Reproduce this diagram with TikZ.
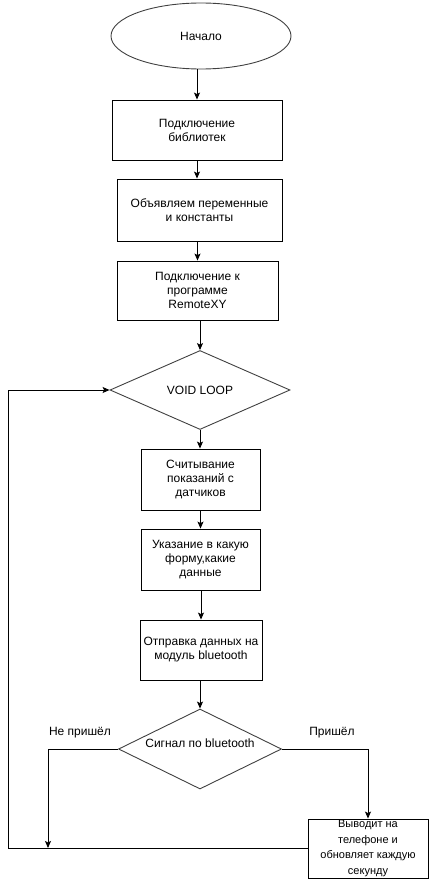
\documentclass[tikz,border=0pt]{standalone}
\usepackage{fontspec}
\setmainfont{Liberation Sans}
\usetikzlibrary{shapes.geometric,arrows.meta}
\begin{document}
\begin{tikzpicture}[x=1pt,y=-1pt,
  every node/.style={font=\fontsize{12}{14}\selectfont, inner sep=0pt, align=center},
  box/.style={draw=black, line width=0.9pt, rectangle},
  dia/.style={draw=black!75, line width=0.9pt, diamond, aspect=2},
  ell/.style={draw=black!75, line width=0.9pt, ellipse},
  arr/.style={draw=black, line width=0.9pt, -{Stealth[length=7pt,width=6pt,inset=1.5pt]}},
  ln/.style={draw=black, line width=0.9pt}]
\useasboundingbox (0,0) rectangle (429,880);
\node[ell, minimum width=180pt, minimum height=66pt] (start) at (201,36) {Начало};
\node[box, minimum width=170pt, minimum height=60pt] (b1) at (197,130) {Подключение\\библиотек};
\node[box, minimum width=165pt, minimum height=62pt] (b2) at (199.5,210) {Объявляем переменные\\и константы};
\node[box, minimum width=161pt, minimum height=59pt] (b3) at (197.5,290.5) {Подключение к\\программе\\RemoteXY};
\node[dia, minimum width=180pt, minimum height=79pt] (d1) at (200,390) {VOID LOOP};
\node[box, minimum width=119pt, minimum height=61pt] (b4) at (200.5,479.5) {Считывание\\показаний с\\датчиков};
\node[box, minimum width=119pt, minimum height=61pt] (b5) at (200.5,559.5) {Указание в какую\\форму,какие\\данные};
\node[box, minimum width=122pt, minimum height=60pt] (b6) at (201,650) {Отправка данных на\\модуль bluetooth};
\node[dia, minimum width=163pt, minimum height=80pt] (d2) at (200,749) {};
\node (d2t) at (200,743) {Сигнал по bluetooth};
\node[box, minimum width=120pt, minimum height=59pt, font=\fontsize{11}{15.5}\selectfont] (b7) at (368,848.5) {Выводит на\\телефоне и\\обновляет каждую\\секунду};
\node (no) at (80,733) {Не пришёл};
\node (yes) at (332,733) {Пришёл};
\coordinate (nl) at (48,848);
\coordinate (lx) at (8,0);
\draw[arr] (start.south -| b1.north) -- (b1.north);
\draw[arr] (b1.south) -- (b1.south |- b2.north);
\draw[arr] (b2.south -| b3.north) -- (b3.north);
\draw[arr] (b3.south -| d1.north) -- (d1.north);
\draw[arr] (d1.south) -- (d1.south |- b4.north);
\draw[arr] (b4.south) -- (b5.north);
\draw[arr] (b5.south -| b6.north) -- (b6.north);
\draw[arr] (b6.south -| d2.north) -- (d2.north);
\draw[arr] (d2.east) -| (b7.north);
\draw[arr] (d2.west) -| (nl);
\draw[arr] (b7.west) -- (b7.west -| lx) |- (d1.west);
\end{tikzpicture}
\end{document}
